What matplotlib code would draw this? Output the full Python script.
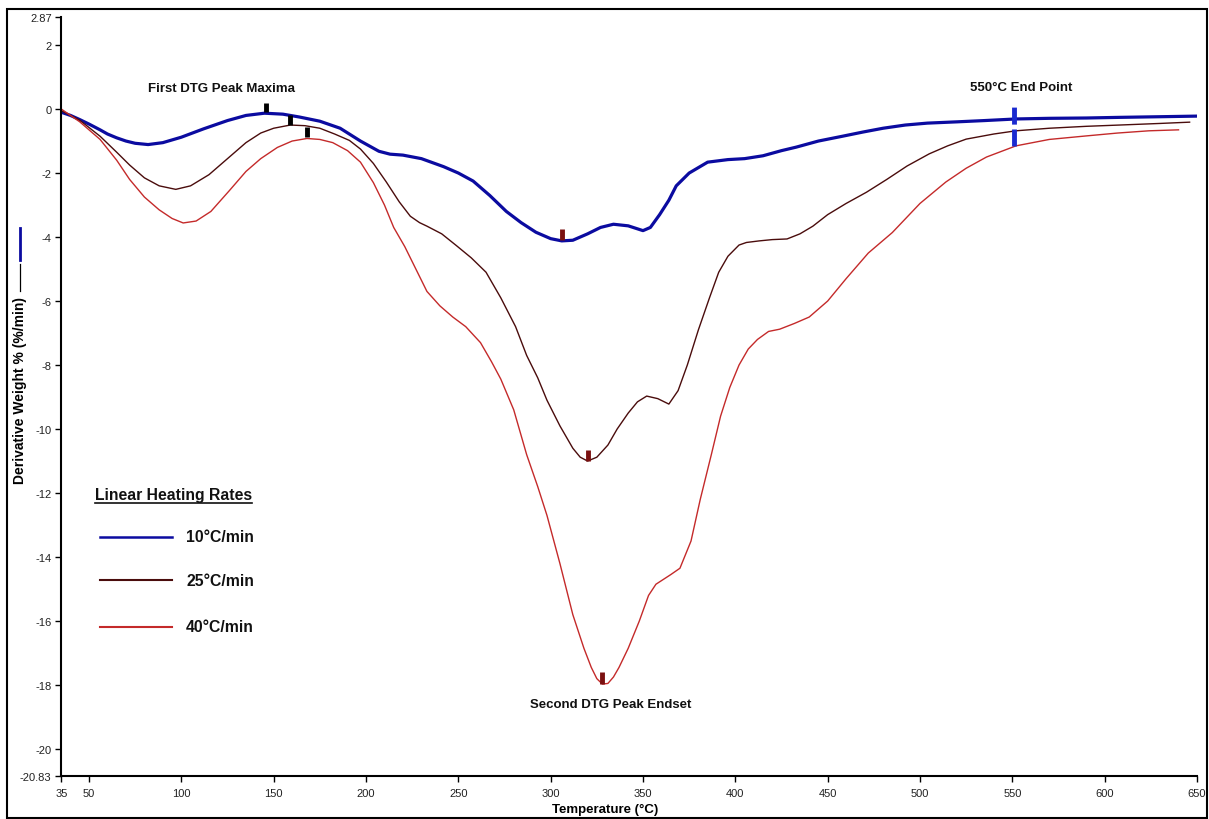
import matplotlib

matplotlib.use("Agg")
import matplotlib.pyplot as plt
from matplotlib import font_manager
from matplotlib.lines import Line2D
from matplotlib.patches import Rectangle

# --- data ---
temp_10 = [35, 40, 45, 50, 56, 60, 65, 70, 75, 82, 90, 100, 112, 125, 135, 145,
           155, 164, 175, 186, 197, 207, 213, 220, 230, 242, 250, 258, 267, 276,
           284, 292, 300, 306, 312, 320, 327, 334, 342, 350, 354, 359, 364, 368,
           375, 385, 396, 405, 415, 425, 433, 445, 458, 469, 480, 492, 504, 520,
           535, 552, 570, 590, 608, 630, 651]
dtg_10 = [-0.1, -0.2, -0.33, -0.47, -0.65, -0.78, -0.9, -1.0, -1.07, -1.11,
          -1.05, -0.88, -0.62, -0.36, -0.2, -0.13, -0.16, -0.25, -0.38, -0.6,
          -1.0, -1.32, -1.41, -1.44, -1.55, -1.8, -2.0, -2.25, -2.7, -3.2, -3.55,
          -3.85, -4.05, -4.12, -4.1, -3.9, -3.7, -3.6, -3.65, -3.8, -3.7, -3.3,
          -2.85, -2.4, -2.0, -1.66, -1.58, -1.55, -1.46, -1.3, -1.19, -1.0,
          -0.85, -0.72, -0.6, -0.5, -0.44, -0.4, -0.36, -0.31, -0.29, -0.28,
          -0.26, -0.24, -0.22]

temp_25 = [35, 45, 56, 65, 72, 80, 88, 97, 105, 115, 126, 135, 143, 150, 159,
           167, 175, 183, 191, 197, 204, 211, 218, 224, 229, 233, 241, 249, 257,
           265, 273, 281, 287, 293, 298, 305, 312, 316, 320, 325, 331, 336, 342,
           347, 352, 358, 364, 369, 374, 380, 386, 391, 396, 402, 406, 413, 420,
           428, 435, 442, 450, 460, 471, 482, 493, 505, 515, 525, 540, 552, 570,
           590, 608, 630, 646]
dtg_25 = [-0.05, -0.35, -0.85, -1.35, -1.75, -2.15, -2.4, -2.51, -2.4, -2.05,
          -1.5, -1.05, -0.75, -0.6, -0.5, -0.52, -0.6, -0.78, -0.98, -1.25, -1.7,
          -2.28, -2.9, -3.35, -3.55, -3.66, -3.9, -4.27, -4.65, -5.1, -5.9, -6.8,
          -7.7, -8.4, -9.1, -9.9, -10.6, -10.88, -11.0, -10.88, -10.5, -10.0,
          -9.5, -9.15, -8.97, -9.05, -9.22, -8.8, -8.0, -6.9, -5.9, -5.1, -4.6,
          -4.25, -4.17, -4.12, -4.08, -4.06, -3.9, -3.66, -3.3, -2.95, -2.6,
          -2.2, -1.78, -1.4, -1.15, -0.94, -0.78, -0.68, -0.6, -0.54, -0.5,
          -0.45, -0.41]

temp_40 = [35, 45, 56, 65, 72, 80, 88, 95, 101, 108, 116, 126, 135, 143, 152,
           160, 168, 175, 182, 190, 197, 204, 210, 215, 221, 227, 233, 240, 247,
           254, 262, 268, 273, 280, 287, 293, 298, 305, 312, 318, 322, 325, 328,
           331, 334, 337, 342, 348, 353, 357, 361, 365, 370, 376, 381, 387, 392,
           397, 402, 407, 412, 418, 424, 432, 440, 450, 460, 472, 485, 500, 514,
           525, 536, 552, 570, 590, 607, 624, 640]
dtg_40 = [0.0, -0.4, -0.95, -1.6, -2.2, -2.75, -3.15, -3.42, -3.56, -3.5, -3.2,
          -2.55, -1.95, -1.55, -1.2, -1.0, -0.92, -0.95, -1.05, -1.3, -1.66,
          -2.3, -3.0, -3.7, -4.3, -5.0, -5.7, -6.15, -6.5, -6.8, -7.3, -7.9,
          -8.44, -9.4, -10.8, -11.8, -12.7, -14.2, -15.8, -16.85, -17.45, -17.8,
          -17.97, -17.95, -17.75, -17.45, -16.85, -16.0, -15.2, -14.85, -14.7,
          -14.55, -14.35, -13.5, -12.2, -10.8, -9.6, -8.7, -8.0, -7.5, -7.2,
          -6.95, -6.88, -6.7, -6.5, -6.0, -5.3, -4.5, -3.86, -2.95, -2.28,
          -1.85, -1.5, -1.15, -0.95, -0.84, -0.75, -0.68, -0.65]

rate_labels = ["10\u00b0C/min", "25\u00b0C/min", "40\u00b0C/min"]

# peak markers: temperature, bottom, top
first_peak_t = [146, 159, 168]
first_peak_lo = [-0.1, -0.5, -0.87]
first_peak_hi = [0.19, -0.19, -0.56]
second_peak_t = [306, 320, 328]
second_peak_lo = [-4.1, -11.0, -17.97]
second_peak_hi = [-3.75, -10.65, -17.6]
end_point_t = 551
end_point_range = [0.15, -1.15]

x_ticks = [35, 50, 100, 150, 200, 250, 300, 350, 400, 450, 500, 550, 600, 650]
y_ticks = [2.87, 2, 0, -2, -4, -6, -8, -10, -12, -14, -16, -18, -20, -20.83]
y_tick_labels = ["2.87", "2", "0", "-2", "-4", "-6", "-8", "-10", "-12", "-14",
                 "-16", "-18", "-20", "-20.83"]

# --- fonts ---
available = {f.name for f in font_manager.fontManager.ttflist}
HAS_NARROW = "Liberation Sans Narrow" in available
NARROW = "Liberation Sans Narrow" if HAS_NARROW else "Liberation Sans"
LEG_SIZE = 13 if HAS_NARROW else 11.3
plt.rcParams["font.family"] = ["Liberation Sans", "DejaVu Sans"]

W, H = 1209, 820
fig = plt.figure(figsize=(W / 100, H / 100), dpi=100)
ax = fig.add_axes([61.3 / W, 1 - 776.6 / H, (1197 - 61.3) / W, (776.6 - 18.2) / H])

c_blue = "#0b0ba0"
c_dark = "#4a0c0c"
c_red = "#c42a2a"

l10, = ax.plot(temp_10, dtg_10, color=c_blue, lw=2.3, solid_joinstyle="round")
l25, = ax.plot(temp_25, dtg_25, color=c_dark, lw=1.0)
l40, = ax.plot(temp_40, dtg_40, color=c_red, lw=1.0)

ax.vlines(first_peak_t, first_peak_lo, first_peak_hi, color="black", lw=3.5)
ax.vlines(second_peak_t, second_peak_lo, second_peak_hi, color="#7a1010", lw=3.5)
ax.vlines([end_point_t], end_point_range[1], end_point_range[0], color="#1a2ad0",
          lw=3.5, linestyles=(0, (3.5, 1)))

ax.set_xlim(35, 650)
ax.set_ylim(-20.83, 2.87)
ax.set_xticks(x_ticks)
ax.set_yticks(y_ticks)
ax.set_yticklabels(y_tick_labels)
ax.tick_params(axis="both", labelsize=8, length=4, width=1, colors="black",
               labelcolor="#222222", pad=3)
ax.tick_params(axis="x", pad=5)
for side in ["top", "right"]:
    ax.spines[side].set_visible(False)
for side in ["left", "bottom"]:
    ax.spines[side].set_linewidth(1.5)

# annotations
ax.text(122, 0.66, "First DTG Peak Maxima", ha="center", va="center",
        fontsize=9.5, fontweight="bold", color="#111111")
ax.text(555, 0.69, "550\u00b0C End Point", ha="center", va="center",
        fontsize=9.5, fontweight="bold", color="#111111")
ax.text(332.5, -18.6, "Second DTG Peak Endset", ha="center", va="center",
        fontsize=9.5, fontweight="bold", color="#111111")


# legend block
def ax_frac(px, py):
    return (px - 61.3) / (1197 - 61.3), (776.6 - py) / (776.6 - 18.2)


tx, ty = ax_frac(95, 495)
title = ax.text(tx, ty, "Linear Heating Rates", transform=ax.transAxes,
                ha="left", va="center", fontsize=LEG_SIZE, fontweight="bold",
                family=NARROW, color="#111111")
legend_y = [538, 581, 628]
legend_colors = [c_blue, c_dark, c_red]
legend_lw = [1.8, 1.5, 1.5]
for py, col, lw, lab in zip(legend_y, legend_colors, legend_lw, rate_labels):
    x0, yy = ax_frac(100, py)
    x1, _ = ax_frac(172, py)
    ax.plot([x0, x1], [yy, yy], transform=ax.transAxes, color=col, lw=lw)
    lx, _ = ax_frac(186, py)
    ax.text(lx, yy, lab, transform=ax.transAxes, ha="left", va="center",
            fontsize=LEG_SIZE, fontweight="bold", family=NARROW, color="#111111")

# axis labels
fig.text(605 / W, 1 - 810 / H, "Temperature (\u00b0C)", ha="center", va="center",
         fontsize=9.5, fontweight="bold")
fig.text(20 / W, 1 - 391 / H, "Derivative Weight % (%/min)", rotation=90,
         ha="center", va="center", fontsize=10, fontweight="bold")
fig.add_artist(Line2D([20 / W, 20 / W], [1 - 292 / H, 1 - 265 / H],
                      color="black", lw=0.9))
fig.add_artist(Line2D([20 / W, 20 / W], [1 - 261 / H, 1 - 229 / H],
                      color=c_blue, lw=2))

# outer frame
fig.add_artist(Rectangle((7 / W, 1 - 819 / H), 1200 / W, 809 / H,
                         transform=fig.transFigure, fill=False,
                         edgecolor="black", lw=1.5))

# underline the legend title
fig.canvas.draw()
bb = title.get_window_extent()
fig.add_artist(Line2D([bb.x0 / W, bb.x1 / W], [(bb.y0 - 1) / H, (bb.y0 - 1) / H],
                      color="#111111", lw=1.2))

fig.savefig("out.png", dpi=100)
